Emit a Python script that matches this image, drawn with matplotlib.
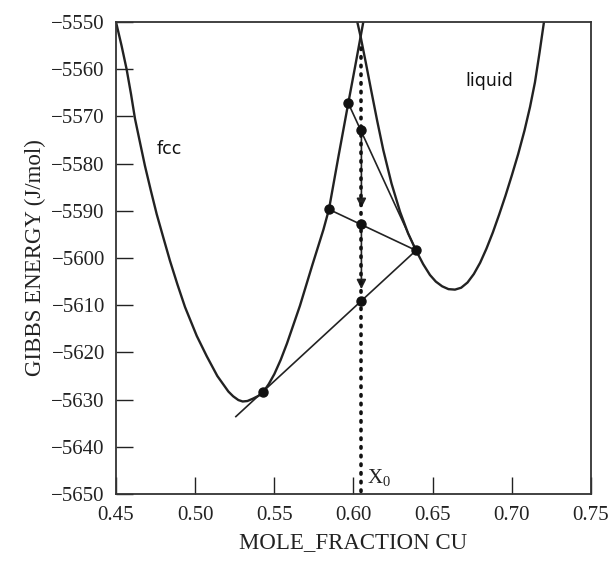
import matplotlib
matplotlib.use('Agg')
import matplotlib.pyplot as plt
from matplotlib.patches import FancyArrowPatch

# Gibbs energy curves
fcc_x = [0.450, 0.4535, 0.4567, 0.4595, 0.4620, 0.4652, 0.4683, 0.4720, 0.4757,
         0.4800, 0.4841, 0.4888, 0.4936, 0.5010, 0.5073, 0.5140, 0.5210, 0.5240,
         0.5273, 0.5300, 0.5330, 0.5365, 0.5400, 0.5430, 0.5465, 0.5500, 0.5540,
         0.5580, 0.5620, 0.5662, 0.5740, 0.5810, 0.5845, 0.5905, 0.5967, 0.6010,
         0.6045, 0.6062]
fcc_g = [-5550.0, -5555.0, -5560.0, -5565.3, -5570.5, -5575.6, -5580.5, -5585.7,
         -5590.7, -5595.8, -5600.6, -5605.6, -5610.4, -5616.5, -5620.8, -5625.0,
         -5628.3, -5629.3, -5630.1, -5630.4, -5630.3, -5629.8, -5629.2, -5628.4,
         -5626.7, -5624.6, -5621.6, -5618.1, -5614.2, -5610.1, -5601.5, -5594.0,
         -5589.7, -5578.5, -5567.2, -5559.5, -5553.1, -5550.0]

liq_x = [0.6024, 0.6045, 0.6080, 0.6110, 0.6150, 0.6188, 0.6240, 0.6294, 0.6345,
         0.6395, 0.6440, 0.6483, 0.6520, 0.6560, 0.6600, 0.6641, 0.6680, 0.6720,
         0.6760, 0.6800, 0.6840, 0.6880, 0.6920, 0.6960, 0.7000, 0.7040, 0.7080,
         0.7115, 0.7146, 0.7175, 0.7203]
liq_g = [-5550.0, -5553.1, -5559.0, -5564.2, -5571.0, -5577.1, -5584.2, -5590.2,
         -5594.8, -5598.4, -5601.3, -5603.6, -5605.0, -5606.0, -5606.6, -5606.7,
         -5606.3, -5605.2, -5603.4, -5601.0, -5598.0, -5594.6, -5590.8, -5586.8,
         -5582.5, -5578.0, -5573.0, -5568.0, -5562.8, -5556.5, -5550.0]

# points of the construction
x0 = 0.605
dot_x = [0.5967, 0.605, 0.5845, 0.605, 0.6395, 0.605, 0.543]
dot_g = [-5567.2, -5572.8, -5589.7, -5592.7, -5598.4, -5609.1, -5628.4]

# tie lines (start -> end)
tie_x = [(0.5967, 0.6395), (0.5845, 0.6395), (0.5257, 0.6395)]
tie_g = [(-5567.2, -5598.4), (-5589.7, -5598.4), (-5633.6, -5598.4)]

# arrows along x0 (start g, tip g)
arrow_g = [(-5572.8, -5589.4), (-5592.7, -5606.6)]

xticks = [0.45, 0.50, 0.55, 0.60, 0.65, 0.70, 0.75]
yticks = list(range(-5650, -5549, 10))

serif = 'Liberation Serif'

fig = plt.figure(figsize=(6.16, 5.62), dpi=100)
ax = fig.add_axes([0.1883, 0.121, 0.7711, 0.8399])

ax.plot(fcc_x, fcc_g, color='#222222', lw=1.7, solid_joinstyle='round')
ax.plot(liq_x, liq_g, color='#222222', lw=1.7, solid_joinstyle='round')

for (xa, xb), (ga, gb) in zip(tie_x, tie_g):
    ax.plot([xa, xb], [ga, gb], color='#222222', lw=1.2)

# dotted x0 line
ax.plot([x0, x0], [-5555.5, -5650], color='#111111', lw=2.6,
        linestyle=(0, (0.4, 2.0)), dash_capstyle='round')

for g0, g1 in arrow_g:
    ax.add_patch(FancyArrowPatch((x0, g0), (x0, g1), arrowstyle='-|>',
                                 mutation_scale=14, color='#222222', lw=1.2,
                                 shrinkA=0, shrinkB=0))

ax.plot(dot_x, dot_g, 'o', color='#111111', ms=6.5, zorder=5)

ax.text(0.4835, -5577, 'fcc', fontsize=12.5, family='DejaVu Sans',
        color='#111111', ha='center', va='center')
ax.text(0.686, -5562.5, 'liquid', fontsize=12.5, family='DejaVu Sans',
        color='#111111', ha='center', va='center')
ax.text(0.6085, -5646.5, r'$\mathregular{X_0}$', fontsize=15, family=serif,
        color='#222222', ha='left', va='center')

ax.set_xlim(0.45, 0.75)
ax.set_ylim(-5650, -5550)
ax.set_xticks(xticks)
ax.set_xticklabels(['%.2f' % v for v in xticks], family=serif, fontsize=15)
ax.set_yticks(yticks)
ax.set_yticklabels(['\u2212%d' % -v for v in yticks], family=serif, fontsize=15)
ax.tick_params(direction='in', length=12, width=1.0, colors='#222222',
               top=False, right=False)
ax.tick_params(axis='x', pad=9)
ax.tick_params(axis='y', pad=8)
for s in ax.spines.values():
    s.set_linewidth(1.3)
    s.set_color('#333333')

ax.set_xlabel('MOLE_FRACTION CU', family=serif, fontsize=16.5, labelpad=5,
              color='#222222')
ax.set_ylabel('GIBBS ENERGY (J/mol)', family=serif, fontsize=16.5, labelpad=4,
              color='#222222')

fig.savefig('out.png', dpi=100)
